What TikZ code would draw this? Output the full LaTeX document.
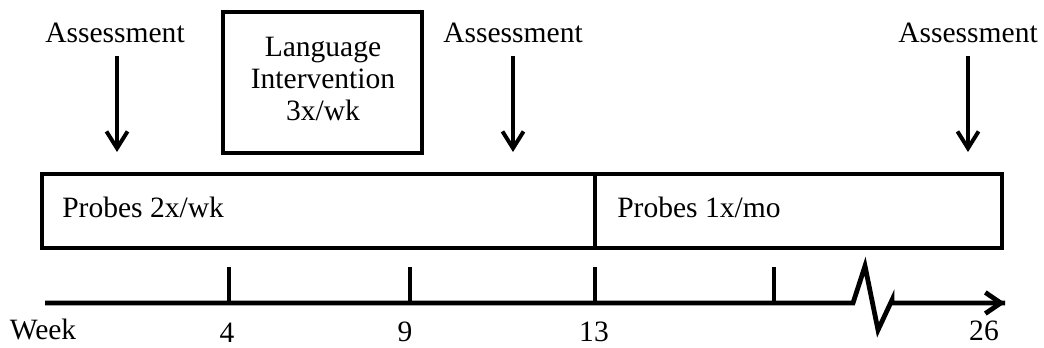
\documentclass[tikz,border=0pt]{standalone}
\usepackage{fontspec}
\setmainfont{Liberation Serif}
\usetikzlibrary{arrows.meta}
\tikzset{
  lbl/.style={inner sep=0pt,font=\fontsize{21}{23}\selectfont},
  frame/.style={line width=2.8pt},
  tick/.style={line width=3.4pt},
  pointer/.style={line width=2.8pt,-{Straight Barb[length=12pt,width=15pt,line width=2.8pt]}}
}
\begin{document}
\begin{tikzpicture}[x=0.025cm,y=-0.025cm]
\useasboundingbox (0,0) rectangle (1044,348);
% assessment points
\node[lbl] (as1) at (115,33) {Assessment};
\node[lbl] (as2) at (513,33) {Assessment};
\node[lbl] (as3) at (968,33) {Assessment};
\coordinate (a1) at (117,152);
\coordinate (a2) at (513,152);
\coordinate (a3) at (968,152);
\draw[pointer] (as1.south -| a1) ++(0,13) coordinate (s1) (s1) -- (a1);
\draw[pointer] (as2.south -| a2) ++(0,13) coordinate (s2) (s2) -- (a2);
\draw[pointer] (as3.south -| a3) ++(0,13) coordinate (s3) (s3) -- (a3);
% intervention
\draw[frame] (223,12) rectangle (422,153);
\node[lbl,align=center] (lang) at (323,79) {Language\\Intervention\\3x/wk};
% probes
\draw[frame] (42,174) rectangle (1002,248);
\draw[frame] (595,174) -- (595,248);
\node[lbl,anchor=west] (pr1) at (62,207) {Probes 2x/wk};
\node[lbl,anchor=west] (pr2) at (617,207) {Probes 1x/mo};
% time axis
\coordinate (w0) at (45,303);
\coordinate (brk) at (853,303);
\coordinate (w26) at (1005,303);
\draw[tick,line join=miter] (w0) -- (brk) -- (865,266) -- (878,330) -- (892,300) -- (892,303)
  -- (w26);
\draw[tick,-{Straight Barb[length=11pt,width=15pt,line width=3.4pt]}] (985,303) -- (w26);
\foreach \x in {229,410,595,774}
  \draw[tick] (\x,267) -- (\x,303);
\node[lbl] (wk) at (43,329) {Week};
\node[lbl] (t4) at (227,333) {4};
\node[lbl] (t9) at (405,332) {9};
\node[lbl] (t13) at (594,332) {13};
\node[lbl] (t26) at (984,331) {26};
\end{tikzpicture}
\end{document}
